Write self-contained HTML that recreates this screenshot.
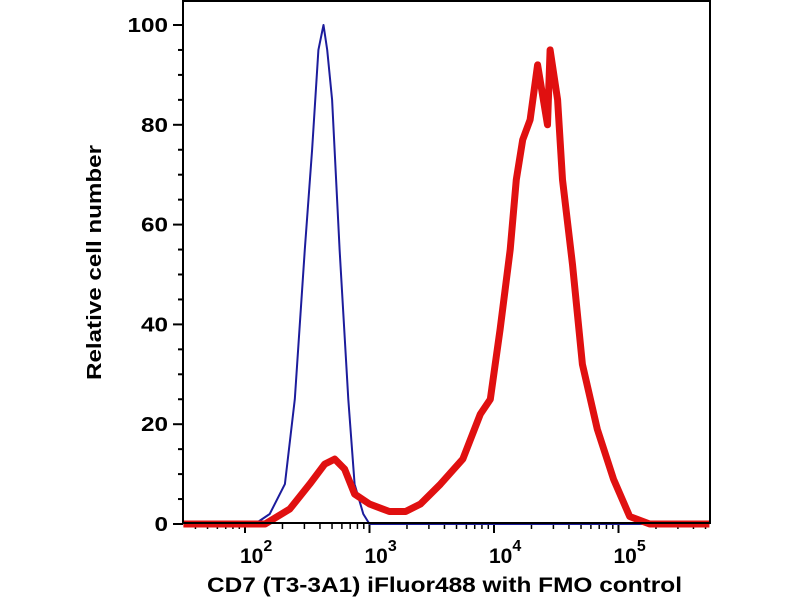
<!DOCTYPE html>
<html><head><meta charset="utf-8"><style>
body{margin:0;background:#fff;}
svg{display:block;font-family:"Liberation Sans",Arial,sans-serif;font-weight:bold;}
</style></head><body>
<svg id="chart" width="800" height="600" xmlns="http://www.w3.org/2000/svg">
<rect x="0" y="0" width="800" height="600" fill="#fff"/>
<g id="grid"></g>
<path id="blue" fill="none" stroke="#1c1c9c" stroke-width="2" stroke-linejoin="round"/>
<path id="red" fill="none" stroke="#e01010" stroke-width="7" stroke-linejoin="round"/>
<rect x="183" y="1" width="527" height="522" fill="none" stroke="#000" stroke-width="2"/>
<text x="207" y="592" font-size="21" textLength="475" lengthAdjust="spacingAndGlyphs">CD7 (T3-3A1) iFluor488 with FMO control</text>
<text transform="translate(101,380) rotate(-90)" font-size="20" textLength="235" lengthAdjust="spacingAndGlyphs">Relative cell number</text>
</svg>
<script>
const blueX=[32,120,158,209,251,302,346,389,427,457,501,575,676,759,891,1000,537000];
const blueY=[0,0,2,8,25,55,75,95,100,95,85,55,25,8,2,0,0];
const redX=[32,145,229,331,437,525,631,759,1000,1445,1950,2570,3720,5620,7760,9330,11200,13500,15100,17000,19500,22400,26900,28200,32400,35500,42700,51300,67600,91200,123000,178000,537000];
const redY=[0,0,3,8,12,13,11,6,4,2.5,2.5,4,8,13,22,25,39,55,69,77,81,92,80,95,85,69,52,32,19,9,1.5,0,0];
const yTicks=[0,20,40,60,80,100];
const xDecades=[2,3,4,5];
const L=183,R=710,B=524;
function sx(v){return 245+(Math.log10(v)-2)*124.5;}
function sy(v){return B-v*4.99;}
const NS='http://www.w3.org/2000/svg';
const g=document.getElementById('grid');
function mk(t,a){const e=document.createElementNS(NS,t);for(const k in a)e.setAttribute(k,a[k]);g.appendChild(e);return e;}
for(let v=0;v<=100;v+=5){
  const y=sy(v),maj=v%20===0;
  const t=mk('line',{x1:L-(maj?10:5),x2:L,y1:y,y2:y,stroke:'#000','stroke-width':2});
  
  
}
yTicks.forEach(v=>{
  const s=String(v);
  const t=mk('text',{x:168,y:sy(v)+7,'text-anchor':'end','font-size':20,textLength:s.length*13.5,lengthAdjust:'spacingAndGlyphs'});
  t.textContent=s;
  
  
});
for(let d=1;d<=5;d++){for(let m=1;m<=9;m++){
  const v=m*Math.pow(10,d),x=sx(v);
  if(x<L||x>R)continue;
  const t=mk('line',{x1:x,x2:x,y1:B,y2:B+(m===1?9:5),stroke:'#000','stroke-width':m===1?2:1.5});
  
  
}}
xDecades.forEach(d=>{
  const x=sx(Math.pow(10,d));
  const t=mk('text',{x:x-5,y:563,'font-size':21});
  t.textContent='10';
  const s=document.createElementNS(NS,'tspan');
  s.setAttribute('dy','-12');s.setAttribute('font-size','16');s.textContent=d;
  t.appendChild(s);
  
  
});
function path(xs,ys){return xs.map((x,i)=>(i?'L':'M')+Math.max(L,Math.min(R,sx(x))).toFixed(1)+','+sy(ys[i]).toFixed(1)).join('');}
document.getElementById('blue').setAttribute('d',path(blueX,blueY));
document.getElementById('red').setAttribute('d',path(redX,redY));
</script>
</body></html>
